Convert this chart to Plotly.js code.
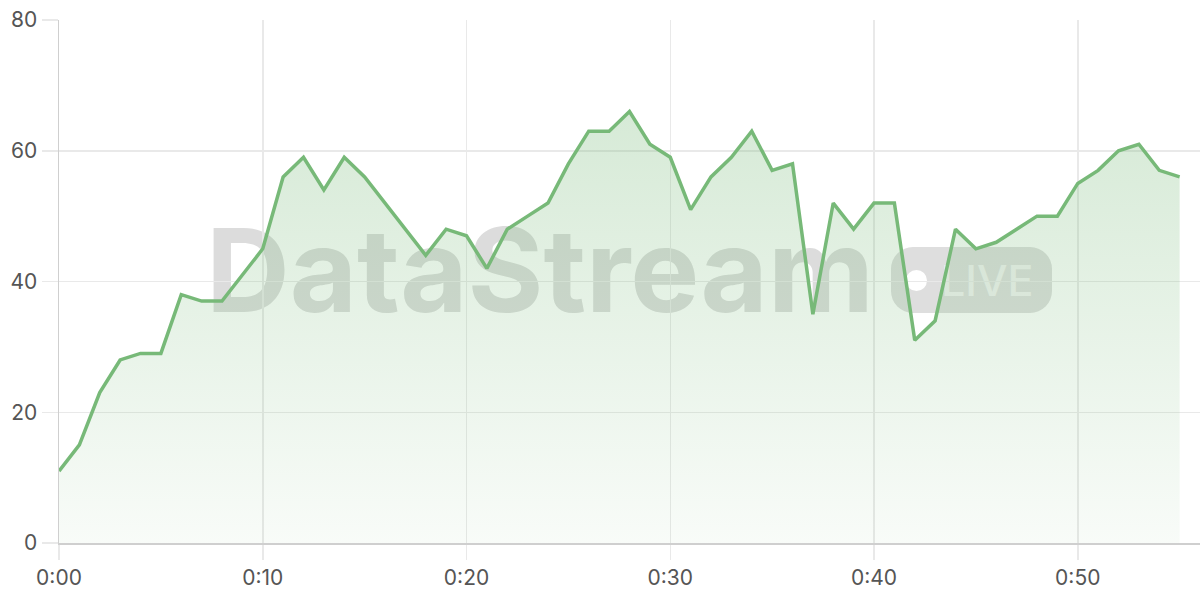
<!DOCTYPE html>
<html>
<head>
<meta charset="utf-8">
<script src="https://cdn.plot.ly/plotly-3.0.1.min.js"></script>
<style>
  html, body { margin: 0; padding: 0; background: #fff; }
  #wrap { position: relative; width: 1200px; height: 600px; }
  #mark { position: absolute; left: 0; top: 0; width: 1200px; height: 600px; z-index: 0; font-family: Inter, "Noto Sans", sans-serif; }
  #mark .word { position: absolute; left: 206px; top: 212px; font-size: 116px; font-weight: 700; letter-spacing: 0px; color: #dcdcdc; line-height: 1; }
  #mark .pill { position: absolute; left: 891px; top: 247px; width: 161px; height: 66px; border-radius: 22px; background: #dedede; }
  #mark .dot { position: absolute; left: 15px; top: 23px; width: 21px; height: 21px; border-radius: 50%; background: #fff; }
  #mark .live { position: absolute; left: 50px; top: 12px; font-size: 43px; font-weight: 500; color: #f2f2f2; line-height: 1; }
  #chart { position: absolute; left: 0; top: 0; width: 1200px; height: 600px; z-index: 1; }
</style>
</head>
<body>
<div id="wrap">
  <div id="mark">
    <div class="word">DataStream</div>
    <div class="pill"><div class="dot"></div><div class="live">LIVE</div></div>
  </div>
  <div id="chart"></div>
</div>
<script>
// one reading per minute, 0:00 .. 0:55
const minutes = [];
for (let i = 0; i <= 55; i++) minutes.push(i);

const values = [
  11, 15, 23, 28, 29, 29, 38, 37, 37, 41,
  45, 56, 59, 54, 59, 56, 52, 48, 44, 48,
  47, 42, 48, 50, 52, 58, 63, 63, 66, 61,
  59, 51, 56, 59, 63, 57, 58, 35, 52, 48,
  52, 52, 31, 34, 48, 45, 46, 48, 50, 50,
  55, 57, 60, 61, 57, 56
];

const tickMinutes = [0, 10, 20, 30, 40, 50];
const tickLabels = ["0:00", "0:10", "0:20", "0:30", "0:40", "0:50"];

const lineColor = "#77b978";
const gridColor = "#e9e9e9";

const trace = {
  x: minutes,
  y: values,
  type: "scatter",
  mode: "lines",
  line: { color: lineColor, width: 3.5, shape: "linear" },
  fill: "tozeroy",
  fillgradient: {
    type: "vertical",
    start: 0,
    stop: 66,
    colorscale: [
      [0, "rgba(119,185,120,0.05)"],
      [1, "rgba(119,185,120,0.30)"]
    ]
  },
  hoverinfo: "skip"
};

const layout = {
  width: 1200,
  height: 600,
  margin: { l: 59, r: 0, t: 20, b: 57 },
  paper_bgcolor: "rgba(0,0,0,0)",
  plot_bgcolor: "rgba(0,0,0,0)",
  showlegend: false,
  font: { family: "Inter, 'Noto Sans', sans-serif", size: 20, color: "#555" },
  xaxis: {
    range: [0, 56],
    tickvals: tickMinutes,
    ticktext: tickLabels,
    showgrid: true,
    gridcolor: gridColor,
    gridwidth: 1.5,
    zeroline: false,
    showline: true,
    linecolor: "#cfcfcf",
    linewidth: 1.5,
    ticks: "outside",
    ticklen: 15,
    tickcolor: gridColor,
    tickwidth: 1.5,
    tickfont: { size: 21, color: "#555" },
    fixedrange: true
  },
  yaxis: {
    range: [0, 80],
    dtick: 20,
    showgrid: true,
    gridcolor: gridColor,
    gridwidth: 1.5,
    zeroline: false,
    showline: true,
    linecolor: "#cfcfcf",
    linewidth: 1.5,
    ticks: "outside",
    ticklen: 16,
    tickcolor: gridColor,
    tickwidth: 1.5,
    tickfont: { size: 21, color: "#555" },
    fixedrange: true
  }
};

Plotly.newPlot("chart", [trace], layout, { displayModeBar: false, staticPlot: true });
</script>
</body>
</html>
